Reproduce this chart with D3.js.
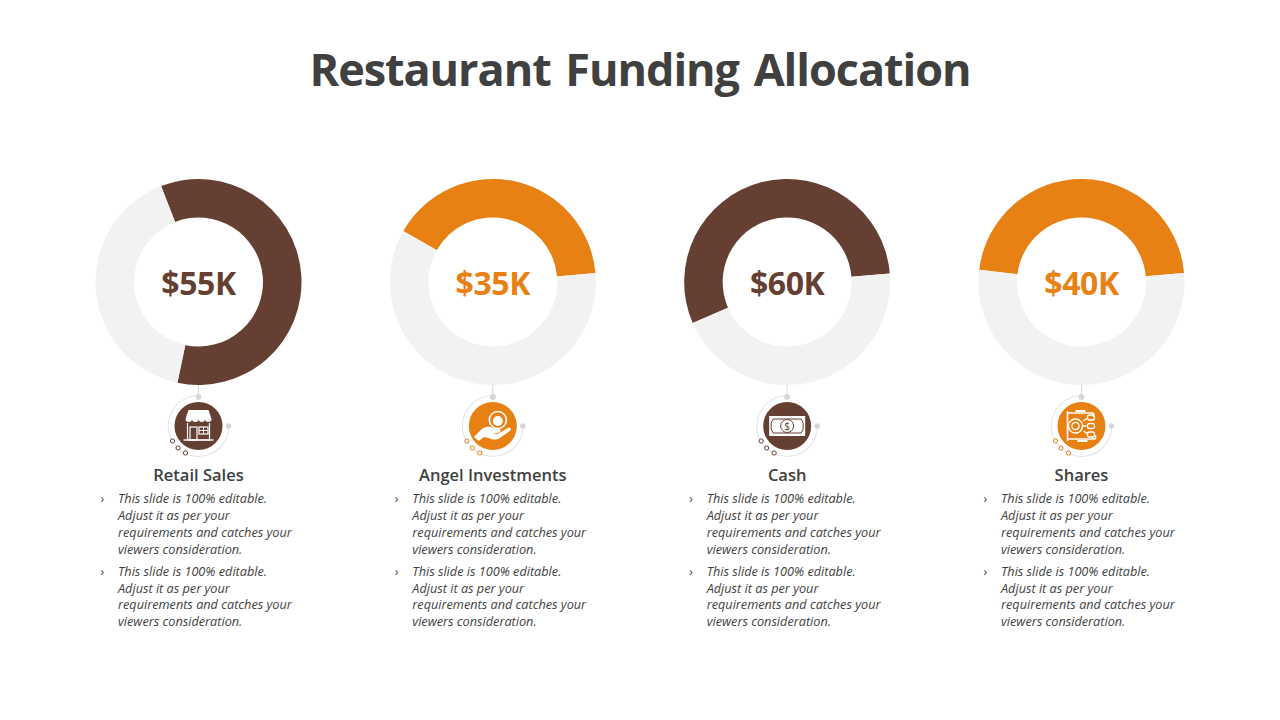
<!DOCTYPE html>
<html>
<head>
<meta charset="utf-8">
<script src="https://cdn.jsdelivr.net/npm/d3@7"></script>
<style>
html,body{margin:0;padding:0;background:#fff;}
svg{display:block;}
text{font-family:"Open Sans",sans-serif;}
</style>
</head>
<body>
<svg id="slide" width="1280" height="720"></svg>
<script>
const categories = ["Retail Sales", "Angel Investments", "Cash", "Shares"];
const amounts = [55, 35, 60, 40];
const filledPercent = [59.2, 40.4, 55.2, 46.7];
const startDegrees = [-21.3, -60.4, -113.5, -83.2];
const tones = ["brown", "orange", "brown", "orange"];
const iconNames = ["store", "hand", "bill", "shares"];
const bodyLines = [
  "This slide is 100% editable.",
  "Adjust it as per your",
  "requirements and catches your",
  "viewers consideration."
];

const palette = {brown: "#643F32", orange: "#E78113", track: "#F2F2F2", ink: "#404040", body: "#3F3F3F", halo: "#DADDE6", dot: "#D4D6DC"};
const svg = d3.select("#slide");

svg.append("text")
  .attr("x", 640).attr("y", 86)
  .attr("text-anchor", "middle")
  .attr("font-size", 45).attr("font-weight", 700)
  .attr("letter-spacing", -1.05)
  .attr("word-spacing", 4)
  .attr("fill", palette.ink)
  .text("Restaurant Funding Allocation");

const centerX = d3.scalePoint().domain(categories).range([198.5, 1081.5]);
const ringY = 282, badgeY = 426;
const arcGen = d3.arc().innerRadius(64.5).outerRadius(103);

// White line-art pictograms, each drawn around the badge centre.
const icons = {
  store(g) {
    const s = {fill: "none", stroke: "#fff", "stroke-width": 1.2};
    const add = (tag, attrs) => { const el = g.append(tag); Object.entries({...s, ...attrs}).forEach(([k, v]) => el.attr(k, v)); return el; };
    add("path", {d: "M-10,-16H10L13,-7H-13Z", fill: "#fff", stroke: "none"});
    add("path", {d: "M-13,-7a3.2,3 0 0 0 6.5,0a3.2,3 0 0 0 6.5,0a3.2,3 0 0 0 6.5,0a3.2,3 0 0 0 6.5,0Z", fill: "#fff", stroke: "none"});
    add("path", {d: "M-11,-3V14H11V-3"});
    add("path", {d: "M-15,14H15", "stroke-width": 1.4});
    add("rect", {x: -8.5, y: 1, width: 7, height: 13});
    add("rect", {x: 0.5, y: 1, width: 9, height: 7});
    add("path", {d: "M0.5,4.5H9.5M5,1V8", "stroke-width": 0.9});
  },
  hand(g) {
    g.append("circle").attr("cx", 5).attr("cy", -6).attr("r", 8.5).attr("fill", "none").attr("stroke", "#fff").attr("stroke-width", 1.6);
    g.append("circle").attr("cx", 5).attr("cy", -5).attr("r", 5).attr("fill", "#fff");
    g.append("path")
      .attr("d", "M-19,11L-12,4C-8,0 -4,0 0,2L6,3C9,4 8,7 4,7L-1,7L5,8L15,2C18,1 19,3 17,5L7,12C4,14 0,14 -4,12L-9,11L-14,15Z")
      .attr("fill", "#fff");
  },
  bill(g) {
    g.append("rect").attr("x", -18).attr("y", -10).attr("width", 36).attr("height", 20).attr("fill", "#fff");
    g.append("path").attr("d", "M-14,-7H14L16,-3V3L14,7H-14L-16,3V-3Z").attr("fill", "none").attr("stroke", palette.brown).attr("stroke-width", 1);
    g.append("circle").attr("r", 6.5).attr("fill", "#fff").attr("stroke", palette.brown).attr("stroke-width", 1);
    g.append("text").attr("text-anchor", "middle").attr("y", 3.5).attr("font-size", 10).attr("fill", palette.brown).text("$");
  },
  shares(g) {
    const line = {fill: "none", stroke: "#fff", "stroke-width": 1.3};
    const add = (tag, attrs) => { const el = g.append(tag); Object.entries({...line, ...attrs}).forEach(([k, v]) => el.attr(k, v)); return el; };
    add("path", {d: "M-14,-15V15M-14,-13H12M-14,13H14M12,-13V-9M14,13V9", "stroke-width": 1.6});
    add("path", {d: "M-6,-15H4M-4,15H6", "stroke-width": 2.2});
    add("circle", {cx: -6, cy: 0, r: 7});
    add("circle", {cx: -6, cy: 0, r: 3.6});
    add("path", {d: "M1,0H5M2,-5L6,-8M2,5L6,8"});
    add("rect", {x: 6, y: -11, width: 7, height: 5, rx: 2});
    add("rect", {x: 6, y: -2.5, width: 7, height: 5, rx: 2});
    add("rect", {x: 6, y: 6, width: 7, height: 5, rx: 2});
  }
};

categories.forEach((name, i) => {
  const cx = centerX(name);
  const colour = palette[tones[i]];
  const start = startDegrees[i] * Math.PI / 180;

  const slices = d3.pie().sort(null).startAngle(start).endAngle(start + 2 * Math.PI)(
    [filledPercent[i], 100 - filledPercent[i]]
  );
  const ring = svg.append("g").attr("transform", `translate(${cx},${ringY})`);
  ring.selectAll("path").data(slices).join("path")
    .attr("d", arcGen)
    .attr("fill", (d, k) => k === 0 ? colour : palette.track);

  ring.append("text")
    .attr("text-anchor", "middle").attr("y", 12.5)
    .attr("font-size", 32).attr("font-weight", 700)
    .attr("letter-spacing", -0.4)
    .attr("fill", colour)
    .text(`$${amounts[i]}K`);

  svg.append("line")
    .attr("x1", cx).attr("x2", cx).attr("y1", 385).attr("y2", 396)
    .attr("stroke", palette.dot).attr("stroke-width", 1);

  const badge = svg.append("g").attr("transform", `translate(${cx},${badgeY})`);
  badge.append("path")
    .attr("d", d3.arc().innerRadius(30).outerRadius(30.8).startAngle(0).endAngle(-2 * Math.PI * 0.74)())
    .attr("fill", palette.halo);
  badge.append("circle").attr("cy", -29).attr("r", 2.9).attr("fill", palette.dot);
  badge.append("circle").attr("cx", 30).attr("r", 2.8).attr("fill", palette.dot);
  badge.selectAll("circle.bead").data([[-26, 15], [-20.5, 22], [-13, 27]]).join("circle")
    .attr("class", "bead")
    .attr("cx", d => d[0]).attr("cy", d => d[1]).attr("r", 2.1)
    .attr("fill", "#fff").attr("stroke", colour).attr("stroke-width", 1);
  badge.append("circle").attr("r", 24).attr("fill", colour);
  icons[iconNames[i]](badge.append("g").attr("class", "icon"));

  svg.append("text")
    .attr("x", cx).attr("y", 481)
    .attr("text-anchor", "middle")
    .attr("font-size", 16.5).attr("font-weight", 600)
    .attr("fill", palette.ink)
    .text(name);

  const textX = cx - 80.5;
  [503, 575.7].forEach(top => {
    svg.append("text")
      .attr("x", textX - 17.5).attr("y", top)
      .attr("font-size", 12).attr("fill", palette.body).text("›");
    bodyLines.forEach((line, k) => {
      svg.append("text")
        .attr("x", textX).attr("y", top + k * 16.85)
        .attr("font-size", 12.7).attr("font-style", "italic")
        .attr("fill", palette.body)
        .text(line);
    });
  });
});
</script>
</body>
</html>
